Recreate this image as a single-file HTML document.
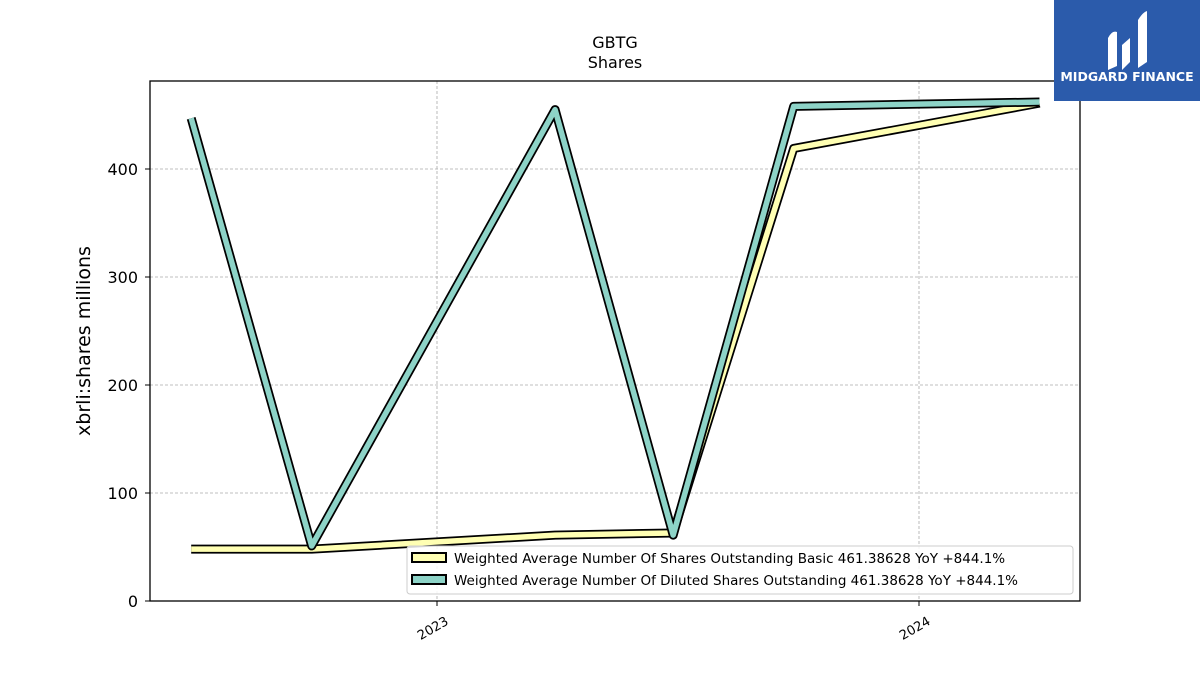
<!DOCTYPE html>
<html><head><meta charset="utf-8"><style>
body{margin:0;background:#fff;}
svg text{font-family:"DejaVu Sans","Liberation Sans",sans-serif;}
</style></head><body>
<svg id="chart" width="1200" height="675" xmlns="http://www.w3.org/2000/svg">
<rect width="1200" height="675" fill="#fff"/>
<text x="615" y="48" text-anchor="middle" font-size="16">GBTG</text>
<text x="615" y="68" text-anchor="middle" font-size="16">Shares</text>
<g id="grid"></g>
<g id="series"></g>
<rect x="150" y="81" width="930" height="520" fill="none" stroke="#000" stroke-width="1.3"/>
<g id="axes"></g>
<text transform="translate(90,341) rotate(-90)" text-anchor="middle" font-size="19">xbrli:shares millions</text>
<g>
<rect x="407" y="546" width="666" height="48" rx="3" fill="#fff" fill-opacity="0.85" stroke="#ccc"/>
<g>
<rect x="412" y="553" width="34" height="9" fill="#ffffb3" stroke="#000" stroke-width="2"/>
<text x="454" y="563" font-size="13.5">Weighted Average Number Of Shares Outstanding Basic  461.38628 YoY +844.1%</text></g>
<g>
<rect x="412" y="575" width="34" height="9" fill="#8dd3c7" stroke="#000" stroke-width="2"/>
<text x="454" y="585" font-size="13.5">Weighted Average Number Of Diluted Shares Outstanding  461.38628 YoY +844.1%</text></g>
</g>
<g>
<rect x="1054" y="0" width="146" height="101" fill="#2b5bab"/>
<path d="M1108 70 L1108 38 Q1112 30 1117 32 L1117 66 Z" fill="#fff"/>
<path d="M1122 70 L1122 45 L1130 38 L1130 62 Z" fill="#fff"/>
<path d="M1138 68 L1138 20 Q1143 12 1147 11 L1147 62 Z" fill="#fff"/>
<text x="1127" y="81" text-anchor="middle" font-size="12.5" font-weight="bold" fill="#fff">MIDGARD FINANCE</text>
</g>
</svg>
<script>
const dates=[2022.49,2022.74,2023.245,2023.49,2023.74,2024.25];
const basicValues=[48,48,61,63,419,461];
const dilutedValues=[447,51,455,61,458,462];
const yTicks=[0,100,200,300,400];
const xTicks=[2023,2024];
const xTickLabels=["2023","2024"];
const NS="http://www.w3.org/2000/svg";
function xs(d){return 437+(d-2023)*482;}
function ys(v){return 601-v*1.08;}
function mk(tag,attrs,parent){const e=document.createElementNS(NS,tag);for(const k in attrs)e.setAttribute(k,attrs[k]);parent.appendChild(e);return e;}
const grid=document.getElementById('grid'),axes=document.getElementById('axes'),ser=document.getElementById('series');
yTicks.forEach(t=>{
 const y=ys(t);
 if(t>0){const g=mk('line',{x1:150,x2:1080,y1:y,y2:y,stroke:'#aaa','stroke-dasharray':'3,2','stroke-width':0.8},grid);
 
 }
 mk('line',{x1:145,x2:150,y1:y,y2:y,stroke:'#000'},axes);
 const l=mk('text',{x:138,y:y+6,'text-anchor':'end','font-size':16},axes);l.textContent=t;
 
 
});
xTicks.forEach((t,i)=>{
 const x=xs(t);
 const g=mk('line',{x1:x,x2:x,y1:81,y2:601,stroke:'#aaa','stroke-dasharray':'3,2','stroke-width':0.8},grid);
 
 
 mk('line',{x1:x,x2:x,y1:601,y2:606,stroke:'#000'},axes);
 const l=mk('text',{x:0,y:0,'text-anchor':'middle','font-size':13,transform:`translate(${x-2},${632}) rotate(-30)`},axes);l.textContent=xTickLabels[i];
 
 
});
function drawLine(vals,color,name){
 const pts=dates.map((d,i)=>xs(d)+','+ys(vals[i])).join(' ');
 const g=mk('g',{},ser);
 
 
 mk('polyline',{points:pts,fill:'none',stroke:'#000','stroke-width':9,'stroke-linejoin':'round'},g);
 mk('polyline',{points:pts,fill:'none',stroke:color,'stroke-width':5.5,'stroke-linejoin':'round'},g);
}
drawLine(basicValues,'#ffffb3','basic-shares-line');
drawLine(dilutedValues,'#8dd3c7','diluted-shares-line');
</script>
</body></html>
